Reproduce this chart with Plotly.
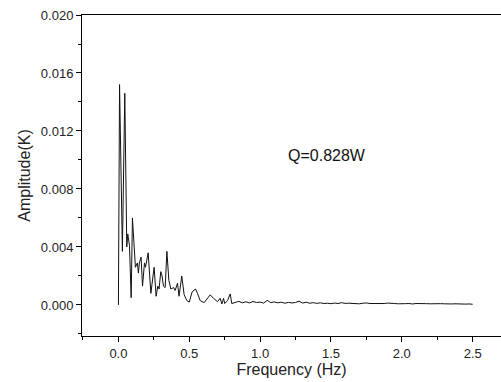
import plotly.graph_objects as go

freq_low = [0.0, 0.008, 0.028, 0.045, 0.059, 0.066, 0.078, 0.090, 0.099, 0.113, 0.120, 0.134, 0.141, 0.148,
            0.160, 0.170, 0.184, 0.191, 0.210, 0.229, 0.238, 0.252, 0.266, 0.278, 0.287, 0.299, 0.308,
            0.318, 0.330, 0.342, 0.356, 0.370, 0.390, 0.400, 0.417, 0.428, 0.447, 0.464, 0.483, 0.500,
            0.520, 0.544, 0.558, 0.577, 0.605, 0.624, 0.648, 0.671, 0.699, 0.718, 0.730, 0.742, 0.750,
            0.770, 0.789, 0.800]
amp_low = [0.0, 0.0152, 0.0037, 0.0146, 0.0040, 0.0049, 0.0041, 0.0005, 0.0060, 0.0031, 0.0026, 0.0029,
           0.0022, 0.0029, 0.0033, 0.0013, 0.0029, 0.0026, 0.0036, 0.0008, 0.0014, 0.0026, 0.0006, 0.0013,
           0.0011, 0.0023, 0.0020, 0.0013, 0.0012, 0.0037, 0.0017, 0.0011, 0.0012, 0.0010, 0.0015, 0.0006,
           0.0020, 0.0007, 0.0003, 0.0002, 0.0009, 0.0011, 0.0008, 0.0003, 0.00016, 0.0004, 0.0007,
           0.00046, 0.00023, 0.00046, 0.00007, 0.00046, 0.0001, 0.0003, 0.00076, 0.0001]

freq_tail = [0.825, 0.85, 0.875, 0.9, 0.925, 0.95, 0.975, 1.0, 1.025, 1.05, 1.075, 1.1, 1.125, 1.15, 1.175,
             1.2, 1.225, 1.25, 1.275, 1.3, 1.325, 1.35, 1.375, 1.4, 1.425, 1.45, 1.475, 1.5, 1.525, 1.55,
             1.575, 1.6, 1.625, 1.65, 1.675, 1.7, 1.725, 1.75, 1.775, 1.8, 1.825, 1.85, 1.875, 1.9, 1.925,
             1.95, 1.975, 2.0, 2.025, 2.05, 2.075, 2.1, 2.125, 2.15, 2.175, 2.2, 2.225, 2.25, 2.275, 2.3,
             2.325, 2.35, 2.375, 2.4, 2.425, 2.45, 2.475, 2.5]
amp_tail = [0.00018, 0.00025, 0.00015, 0.00022, 0.00014, 0.00024, 0.00017, 0.0002, 0.00013, 0.00032,
            0.00016, 0.00021, 0.00015, 0.00019, 0.00012, 0.00018, 0.00014, 0.00017, 0.00026, 0.00013,
            0.00019, 0.00012, 0.00016, 0.00011, 0.00015, 0.00010, 0.00012, 0.00009, 0.00013, 0.00010,
            0.00016, 0.00011, 0.00012, 0.00009, 0.00011, 0.00008, 0.00012, 0.00014, 0.00010, 0.00009,
            0.00011, 0.00008, 0.00010, 0.00013, 0.00009, 0.00010, 0.00008, 0.00011, 0.00009, 0.00010,
            0.00007, 0.00010, 0.00008, 0.00011, 0.00009, 0.00008, 0.00010, 0.00007, 0.00009, 0.00008,
            0.00010, 0.00007, 0.00008, 0.00006, 0.00008, 0.00006, 0.00007, 0.00005]

freq = freq_low + freq_tail
amp = amp_low + amp_tail

annotation_text = "Q=0.828W"

FONT = "Liberation Sans, Arial, sans-serif"

fig = go.Figure()
fig.add_trace(go.Scatter(x=freq, y=amp, mode="lines",
                         line=dict(color="#111111", width=1), showlegend=False))

fig.add_annotation(x=1.47, y=0.0103, text=annotation_text, showarrow=False,
                   font=dict(family=FONT, size=16, color="#111111"))

fig.update_layout(
    width=501, height=382,
    margin=dict(l=82, r=0, t=15, b=46),
    plot_bgcolor="white", paper_bgcolor="white",
    font=dict(family=FONT, color="#222222"),
)
fig.update_xaxes(
    range=[-0.257, 2.7], tickmode="linear", tick0=0, dtick=0.5, tickformat=".1f",
    showline=True, linecolor="black", linewidth=1, mirror=True,
    ticks="outside", ticklen=5, tickcolor="black",
    minor=dict(ticks="outside", ticklen=3, dtick=0.25, tick0=0, tickcolor="black"),
    showgrid=False, zeroline=False,
    tickfont=dict(size=13),
    title=dict(text="Frequency (Hz)", font=dict(size=16), standoff=3),
)
fig.update_yaxes(
    range=[-0.00214, 0.020], tickmode="linear", tick0=0, dtick=0.004, tickformat=".3f",
    showline=True, linecolor="black", linewidth=1, mirror=False,
    ticks="outside", ticklen=5, tickcolor="black",
    minor=dict(ticks="outside", ticklen=3, dtick=0.002, tick0=0, tickcolor="black"),
    showgrid=False, zeroline=False,
    tickfont=dict(size=13),
    title=dict(text="Amplitude(K)", font=dict(size=16), standoff=6),
)

fig.write_html("out.html")
